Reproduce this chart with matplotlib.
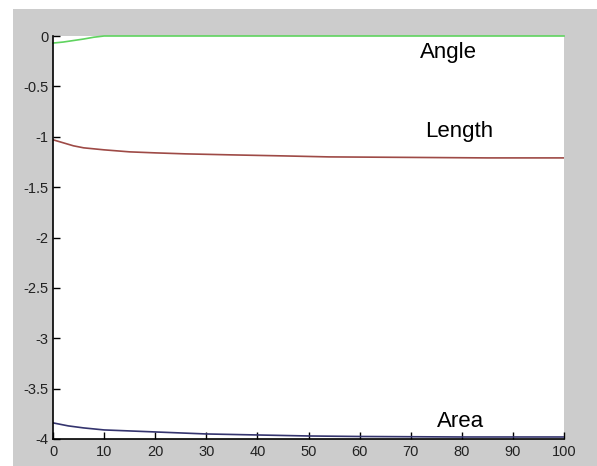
import matplotlib
matplotlib.use("Agg")
import matplotlib.pyplot as plt
from matplotlib.patches import Rectangle

# values
angle_x = [0, 2, 4, 6, 8, 10, 20, 50, 100]
angle_y = [-0.07, -0.06, -0.045, -0.03, -0.012, 0.0, 0.0, 0.0, 0.0]

length_x = [0, 2, 4, 6, 10, 15, 20, 26, 35, 45, 54, 70, 85, 100]
length_y = [-1.03, -1.06, -1.09, -1.11, -1.13, -1.15, -1.16, -1.17, -1.18, -1.19, -1.20, -1.205, -1.21, -1.21]

area_x = [0, 3, 6, 10, 15, 20, 30, 40, 50, 60, 80, 100]
area_y = [-3.84, -3.87, -3.89, -3.91, -3.92, -3.93, -3.95, -3.96, -3.97, -3.975, -3.98, -3.98]

labels = ["Angle", "Length", "Area"]
label_x = [77.3, 79.5, 79.7]
label_y = [-0.16, -0.95, -3.83]

xticks = list(range(0, 101, 10))
yticks = [0, -0.5, -1, -1.5, -2, -2.5, -3, -3.5, -4]
ytick_labels = ["0", "-0.5", "-1", "-1.5", "-2", "-2.5", "-3", "-3.5", "-4"]

plt.rcParams['font.family'] = ['Liberation Sans', 'DejaVu Sans']

fig = plt.figure(figsize=(5.97, 4.66), dpi=100, facecolor="white")
fig.patches.append(Rectangle((13 / 597, 0), 1 - 13 / 597, 457 / 466,
                             transform=fig.transFigure, facecolor="#cccccc",
                             edgecolor="none", zorder=-10))

ax = fig.add_axes([53 / 597, 1 - 439 / 466, 511 / 597, 403 / 466])
ax.set_facecolor("white")

ax.plot(angle_x, angle_y, color="#5fd35f", lw=1.2, clip_on=False)
ax.plot(length_x, length_y, color="#9e4a46", lw=1.2)
ax.plot(area_x, area_y, color="#34346e", lw=1.2)

for t, lx, ly in zip(labels, label_x, label_y):
    ax.text(lx, ly, t, ha="center", va="center", fontsize=16, color="black")

ax.set_xlim(0, 100)
ax.set_ylim(-4, 0)
ax.set_xticks(xticks)
ax.set_yticks(yticks)
ax.set_yticklabels(ytick_labels)
ax.tick_params(direction="in", length=5, width=1, labelsize=10.5, colors="black")
ax.tick_params(axis="x", pad=4)
ax.tick_params(axis="y", pad=3)
for lab in ax.get_xticklabels() + ax.get_yticklabels():
    lab.set_color("#222222")

ax.spines["top"].set_visible(False)
ax.spines["right"].set_visible(False)
ax.spines["left"].set_linewidth(1.2)
ax.spines["bottom"].set_linewidth(1.2)

fig.savefig("out.png", dpi=100)
